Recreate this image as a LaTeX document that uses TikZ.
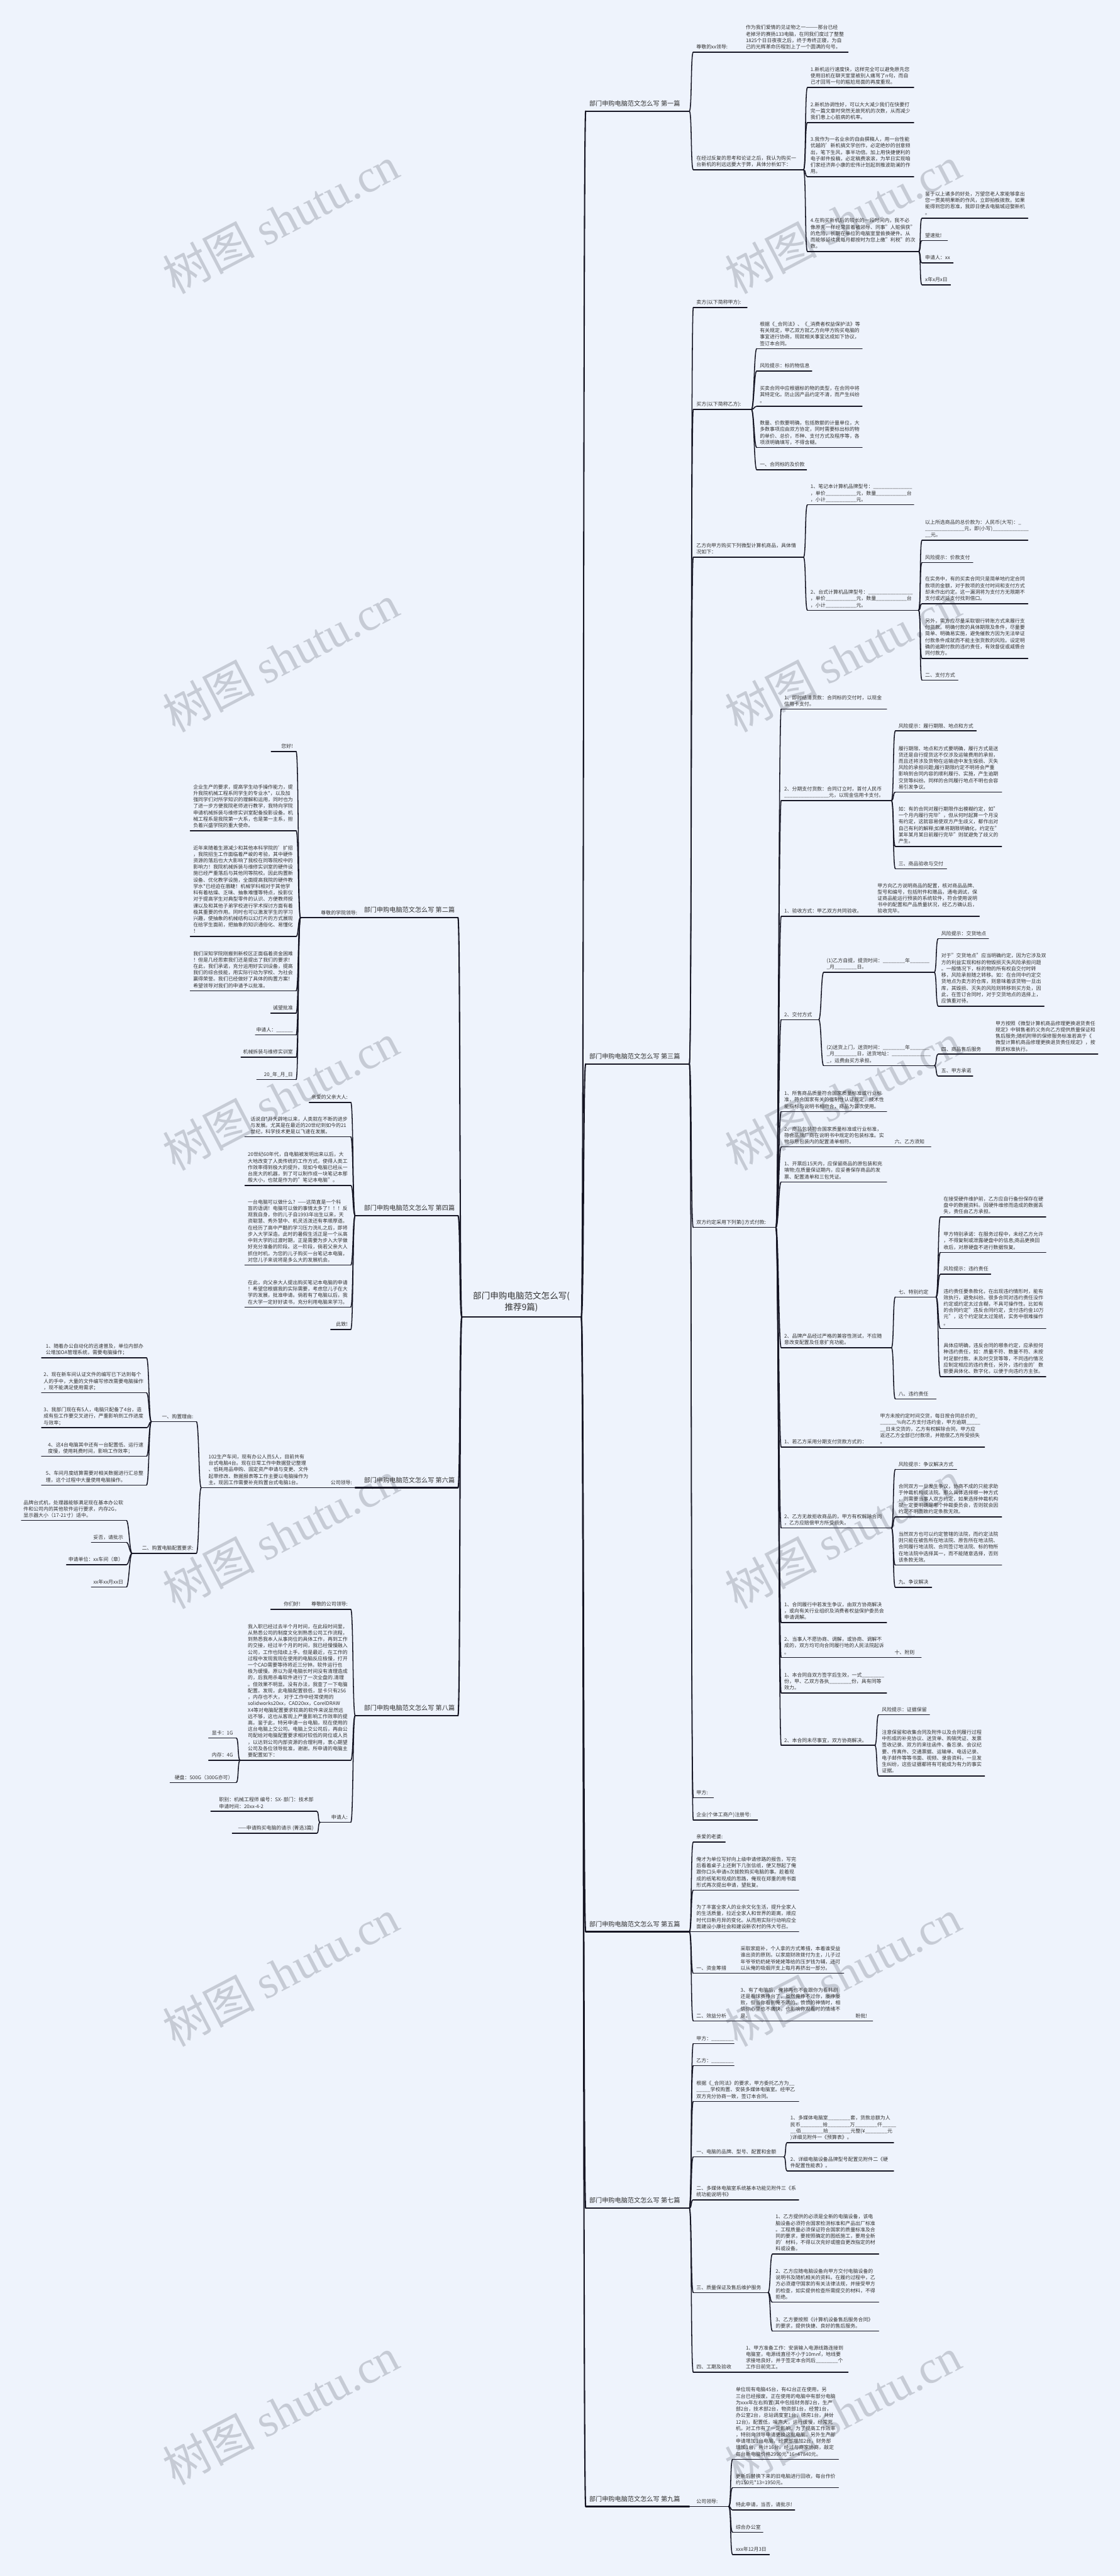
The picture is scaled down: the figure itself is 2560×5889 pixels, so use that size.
\documentclass[tikz,border=0pt]{standalone}
\usepackage{fontspec}
\setmainfont{Noto Sans CJK SC}
\newfontfamily\wmserif{Liberation Serif}
\definecolor{bg}{RGB}{238,243,252}
\definecolor{lc}{RGB}{22,22,36}
\definecolor{tc}{RGB}{51,51,51}
\definecolor{wm}{RGB}{198,203,213}
\newcount\uscnt
\newcommand\us[1]{\uscnt=0\relax\loop\ifnum\uscnt<#1\relax\_\advance\uscnt by 1\relax\repeat}
\tikzset{
  ul/.style={line width=2.2pt,draw=lc,line cap=round},
  conn/.style={line width=2.2pt,draw=lc,line cap=round},
  tul/.style={line width=3pt,draw=lc,line cap=round},
  trunk/.style={line width=3pt,draw=lc,line cap=round},
  txt/.style={inner sep=0pt,text=tc,font=\fontsize{11.4}{14.7}\selectfont},
  ttl/.style={inner sep=0pt,text=tc,font=\fontsize{14.6}{18}\selectfont},
  wmk/.style={inner sep=0pt,text=wm,rotate=27.6,font=\fontsize{105}{105}\selectfont},
}
\newcommand\RN[5]{\draw[ul] (#2,#4) coordinate (#1-s) -- (#3,#4) coordinate (#1-e);
  \node[txt,anchor=base west] (#1) at (#2+7,#4-7.5) {\begin{tabular}[b]{@{}l@{}}#5\end{tabular}};}
\newcommand\LN[5]{\draw[ul] (#2,#4) coordinate (#1-s) -- (#3,#4) coordinate (#1-e);
  \node[txt,anchor=base east] (#1) at (#3-7,#4-7.5) {\begin{tabular}[b]{@{}l@{}}#5\end{tabular}};}
\newcommand\RT[3]{\draw[tul] (1339,#2) coordinate (#1-s) -- (1576,#2) coordinate (#1-e);
  \node[ttl,anchor=base west] (#1) at (1347,#2-12) {#3};}
\newcommand\LT[4]{\draw[tul] (#2,#3) coordinate (#1-s) -- (1047,#3) coordinate (#1-e);
  \node[ttl,anchor=base east] (#1) at (1040,#3-12) {#4};}
\newcommand\RC[2]{\draw[conn] (#1-e) .. controls +(6,0) and +(-6,0) .. (#2-s);}
\newcommand\LC[2]{\draw[conn] (#1-s) .. controls +(-6,0) and +(6,0) .. (#2-e);}
\newcommand\RCt[2]{\draw[trunk] (#1-e) .. controls +(6,0) and +(-6,0) .. (#2-s);}
\newcommand\LCt[2]{\draw[trunk] (#1-s) .. controls +(-6,0) and +(6,0) .. (#2-e);}
\begin{document}
\begin{tikzpicture}[x=1pt,y=-1pt]
\fill[bg] (0,0) rectangle (2560,5889);
\path[use as bounding box] (0,0) rectangle (2560,5889);
% watermarks
\foreach \k in {0,...,5}{
  \node[wmk] (wl\k) at (642,{502+1002*\k}) {树图 {\wmserif shutu.cn}};
  \node[wmk] (wr\k) at (1927,{502+1002*\k}) {树图 {\wmserif shutu.cn}};
}
% center
\draw[tul] (1056,3011) coordinate (c-s) -- (1329,3011) coordinate (c-e);
\node[inner sep=0pt,text=tc,font=\fontsize{19.5}{26.7}\selectfont,anchor=base] (c) at (1192,2996)
  {\begin{tabular}[b]{@{}c@{}}部门申购电脑范文怎么写(\\推荐9篇)\end{tabular}};
% ===== right titles
\RT{t1}{254}{部门申购电脑范文怎么写 第一篇}
\RT{t3}{2432}{部门申购电脑范文怎么写 第三篇}
\RT{t5}{4416}{部门申购电脑范文怎么写 第五篇}
\RT{t7}{5048}{部门申购电脑范文怎么写 第七篇}
\RT{t9}{5730}{部门申购电脑范文怎么写 第九篇}
\RCt{c}{t1}\RCt{c}{t3}\RCt{c}{t5}\RCt{c}{t7}\RCt{c}{t9}
% ===== left titles
\LT{t2}{824}{2098}{部门申购电脑范文怎么写 第二篇}
\LT{t4}{812}{2779}{部门申购电脑范文怎么写 第四篇}
\LT{t6}{812}{3401}{部门申购电脑范文怎么写 第六篇}
\LT{t8}{812}{3922}{部门申购电脑范文怎么写 第八篇}
\LCt{c}{t2}\LCt{c}{t4}\LCt{c}{t6}\LCt{c}{t8}
% ===== 第一篇
\RN{n1a}{1585}{1698}{119}{尊敬的xx领导:}
\RN{n1a1}{1698}{1939}{119}{作为我们爱情的见证物之一———那台已经\\老掉牙的赛扬133电脑，在同我们度过了整整\\1825个日日夜夜之后，终于寿终正寝，为自\\己的光辉革命历程划上了一个圆满的句号。}
\RN{n1b}{1585}{1837}{388}{在经过反复的思考和论证之后，我认为购买一\\台新机的利远远要大于弊，具体分析如下：}
\RN{n1b1}{1846}{2089}{200}{1.新机运行速度快，这样完全可以避免原先您\\使用旧机在聊天室里被别人痛骂了n句，而自\\己才回骂一句的尴尬局面的再度重现。}
\RN{n1b2}{1846}{2089}{280}{2.新机协调性好，可以大大减少我们在快要打\\完一篇文章时突然无故死机的次数，从而减少\\我们患上心脏病的机率。}
\RN{n1b3}{1846}{2089}{404}{3.我作为一名业余的自由撰稿人，用一台性能\\优越的'新机搞文学创作，必定绝妙的创意频\\出，笔下生风，事半功倍。加上用快捷便利的\\电子邮件投稿，必定稿费滚滚，为早日实现咱\\们家经济奔小康的宏伟计划起到推波助澜的作\\用。}
\RN{n1b4}{1846}{2100}{575}{4.在购买新机后的较长的一段时间内，我不必\\像原先一样经常冒着被领导、同事"人赃俱获"\\的危险，长期在单位的电脑室里偷换硬件。从\\而能够延续我每月都按时为您上缴"利税"的次\\数。}
\RN{n1b4a}{2108}{2350}{499}{鉴于以上诸多的好处，万望您老人家能够拿出\\您一贯英明果断的作风，立即拍板拨款。如果\\能得到您的恩准，我即日便去电脑城迎娶新机\\。}
\RN{n1b4b}{2108}{2166}{550}{望速批!}
\RN{n1b4c}{2108}{2179}{601}{申请人：xx}
\RN{n1b4d}{2108}{2173}{651}{x年x月x日}
\RC{t1}{n1a}\RC{t1}{n1b}\RC{n1a}{n1a1}
\RC{n1b}{n1b1}\RC{n1b}{n1b2}\RC{n1b}{n1b3}\RC{n1b}{n1b4}
\RC{n1b4}{n1b4a}\RC{n1b4}{n1b4b}\RC{n1b4}{n1b4c}\RC{n1b4}{n1b4d}
% ===== 第三篇
\RN{n3a}{1585}{1708}{703}{卖方(以下简称甲方):}
\RN{n3b}{1585}{1718}{936}{买方(以下简称乙方):}
\RN{n3b1}{1730}{1971}{797}{根据《\_合同法》、《\_消费者权益保护法》等\\有关规定，甲乙双方就乙方向甲方购买电脑的\\事宜进行协商，现就相关事宜达成如下协议，\\签订本合同。}
\RN{n3b2}{1730}{1856}{848}{风险提示：标的物信息}
\RN{n3b3}{1730}{1971}{929}{买卖合同中应根据标的物的类型，在合同中将\\其特定化。防止因产品约定不清，而产生纠纷\\。}
\RN{n3b4}{1730}{1971}{1023}{数量、价款要明确，包括数额的计量单位，大\\多数事项应由双方协定，同时需要标出标的物\\的单价、总价，币种、支付方式及程序等，各\\项须明确填写，不得含糊。}
\RN{n3b5}{1730}{1844}{1074}{一、合同标的及价款}
\RN{n3c}{1585}{1837}{1274}{乙方向甲方购买下列微型计算机商品，具体情\\况如下：}
\RN{n3c1}{1846}{2089}{1154}{1、笔记本计算机品牌型号：\us{14}\\，单价\us{11}元，数量\us{11}台\\，小计\us{11}元。}
\RN{n3c2}{1846}{2100}{1395}{2、台式计算机品牌型号：\us{16}\\，单价\us{11}元，数量\us{11}台\\，小计\us{11}元。}
\RN{n3c2a}{2108}{2350}{1235}{以上所选商品的总价款为：人民币(大写)：\_\\\us{14}元，即(小写)\us{13}\\\_\_元。}
\RN{n3c2b}{2108}{2224}{1286}{风险提示：价款支付}
\RN{n3c2c}{2108}{2350}{1380}{在实务中，有的买卖合同只是简单地约定合同\\款项的金额，对于款项的支付时间和支付方式\\却未作出约定。这一漏洞将为支付方无限期不\\支付或迟延支付找到借口。}
\RN{n3c2d}{2108}{2350}{1505}{另外，需方应尽量采取银行转账方式来履行支\\付货款。明确付款的具体期限及条件，尽量要\\简单、明确易实施，避免催款方因为无法举证\\付款条件成就而不能主张货款的风险。设定明\\确的逾期付款的违约责任，有效督促或威慑合\\同付款方。}
\RN{n3c2e}{2108}{2190}{1555}{二、支付方式}
\RN{n3d}{1585}{1774}{2806}{双方约定采用下列第()方式付款:}
\RN{n3d1}{1786}{2027}{1621}{1、即时结清货款：合同标的交付时，以现金\\信用卡支付。}
\RN{n3d2}{1786}{2038}{1830}{2、分期支付货款：合同订立时，首付人民币\\\us{16}元，以现金信用卡支付。}
\RN{n3d2a}{2047}{2232}{1671}{风险提示：履行期限、地点和方式}
\RN{n3d2b}{2047}{2290}{1811}{履行期限、地点和方式要明确，履行方式是送\\货还是自行提货这不仅涉及运输费用的承担，\\而且还将涉及货物在运输途中发生毁损、灭失\\风险的承担问题;履行期限约定不明将会严重\\影响到合同内容的顺利履行、实施，产生逾期\\交货等纠纷。同样的合同履行地点不明也会容\\易引发争议。}
\RN{n3d2c}{2047}{2290}{1935}{如：有的合同对履行期限作出模糊约定，如"\\一个月内履行完毕"，但从何时起算一个月没\\有约定，这就容易使双方产生歧义，都作出对\\自己有利的解释;如果将期限明确化，约定在"\\某年某月某日前履行完毕"则就避免了歧义的\\产生。}
\RN{n3d2d}{2047}{2164}{1986}{三、商品验收与交付}
\RN{n3d3}{1786}{1999}{2095}{1、验收方式：甲乙双方共同验收。}
\RN{n3d3a}{1999}{2239}{2095}{甲方向乙方说明商品的配置，核对商品品牌、\\型号和编号，包括附件和赠品，通电调试，保\\证商品能运行预装的系统软件，符合使用说明\\书中的配置和产品质量状况，经乙方确认后，\\验收完毕。}
\RN{n3d4}{1786}{1872}{2331}{2、交付方式}
\RN{n3d4a}{1883}{2136}{2223}{(1)乙方自提，提货时间：\us{8}年\us{7}\\\_月\us{8}日。}
\RN{n3d4a1}{2145}{2260}{2146}{风险提示：交货地点}
\RN{n3d4a2}{2145}{2387}{2300}{对于"交货地点"应当明确约定，因为它涉及双\\方的利益实现和标的物毁损灭失风险承担问题\\。一般情况下，标的物的所有权自交付时转\\移，风险承担随之转移。如：在合同中约定交\\货地点为卖方的仓库，则意味着该货物一旦出\\库，其毁损、灭失的风险则转移到买方处，因\\此，在签订合同时，对于交货地点的选择上，\\应慎重对待。}
\RN{n3d4b}{1883}{2136}{2436}{(2)送货上门，送货时间：\us{8}年\us{7}\\\_月\us{8}日，送货地址：\us{14}\\\_，运费由买方承担。}
\RN{n3d4b1}{2145}{2269}{2410}{四、商品售后服务}
\RN{n3d4b1a}{2269}{2510}{2410}{甲方按照《微型计算机商品修理更换退货责任\\规定》中销售者的义务向乙方提供质量保证和\\售后服务;随机附带的保修服务标准若高于《\\微型计算机商品修理更换退货责任规定》，按\\照该标准执行。}
\RN{n3d4b2}{2145}{2224}{2460}{五、甲方承诺}
\RN{n3d5}{1786}{2027}{2541}{1、所售商品质量符合国家质量标准或行业标\\准，符合国家有关的强制性认证规定，技术性\\能指标与说明书相吻合，商品为首次使用。}
\RN{n3d6}{1786}{2038}{2622}{2、商品包装符合国家质量标准或行业标准，\\符合品牌厂商在说明书中规定的包装标准。实\\物与原包装内的配置清单相符。}
\RN{n3d6a}{2038}{2128}{2622}{六、乙方须知}
\RN{n3d7}{1786}{2027}{2702}{1、开票后15天内，应保留商品的原包装和充\\填物;在质量保证期内，应妥善保存商品的发\\票、配置清单和三包凭证。}
\RN{n3d8}{1786}{2038}{3081}{2、品牌产品经过严格的兼容性测试，不应随\\意改变配置及任意扩充功能。}
\RN{n3d8a}{2047}{2140}{2965}{七、特别约定}
\RN{n3d8a1}{2150}{2391}{2782}{在接受硬件维护前，乙方应自行备份保存在硬\\盘中的数据资料。因硬件维修而造成的数据丢\\失，责任由乙方承担。}
\RN{n3d8a2}{2150}{2391}{2863}{甲方特别承诺：在服务过程中，未经乙方允许\\，不得复制或泄露硬盘中的信息;商品更换回\\收后，对原硬盘不进行数据恢复。}
\RN{n3d8a3}{2150}{2265}{2913}{风险提示：违约责任}
\RN{n3d8a4}{2150}{2391}{3037}{违约责任要条款化，在出现违约情形时，能有\\效执行，避免纠纷。很多合同对违约责任没作\\约定或约定太过含糊，不具可操作性。比如有\\的合同约定"违反合同约定，支付违约金10万\\元"，这个约定就太过笼统，实务中很难操作\\。}
\RN{n3d8a5}{2150}{2391}{3147}{具体应明确，违反合同的哪条约定，应承担何\\种违约责任，如：质量不符、数量不符、未按\\时足额付款、未及时交货等等，不同违约情况\\应制定相应的违约责任，另外，违约金的'数\\额要具体化、数字化，以便于向违约方主张。}
\RN{n3d8b}{2047}{2140}{3198}{八、违约责任}
\RN{n3d9}{1786}{2005}{3308}{1、若乙方采用分期支付货款方式的：}
\RN{n3d9a}{2005}{2251}{3308}{甲方未按约定时间交货，每日按合同总价的\_\\\us{6}\%向乙方支付违约金，甲方逾期\us{5}\\\_\_日未交货的，乙方有权解除合同，甲方应\\返还乙方全部已付款项，并赔偿乙方所受损失\\。}
\RN{n3d10}{1786}{2038}{3493}{2、乙方无故拒收商品的，甲方有权解除合同\\，乙方应赔偿甲方所受损失。}
\RN{n3d10a}{2047}{2187}{3359}{风险提示：争议解决方式}
\RN{n3d10b}{2047}{2290}{3468}{合同双方一旦发生争议，协商不成的只能求助\\于仲裁机构或法院。那么具体选择哪一种方式\\，则需要当事人双方约定，如果选择仲裁机构\\就一定要明确是哪个仲裁委员会，否则就会因\\约定不明而致约定条款无效。}
\RN{n3d10c}{2047}{2290}{3578}{当然双方也可以约定管辖的法院，而约定法院\\则只能在被告所在地法院、原告所在地法院、\\合同履行地法院、合同签订地法院、标的物所\\在地法院中选择其一，而不能随意选择，否则\\该条款无效。}
\RN{n3d10d}{2047}{2130}{3629}{九、争议解决}
\RN{n3d11}{1786}{2027}{3709}{1、合同履行中若发生争议，由双方协商解决\\，或向有关行业组织及消费者权益保护委员会\\申请调解。}
\RN{n3d12}{1786}{2038}{3789}{2、当事人不愿协商、调解，或协商、调解不\\成的，双方均可向合同履行地的人民法院起诉\\。}
\RN{n3d12a}{2038}{2106}{3789}{十、附则}
\RN{n3d13}{1786}{2027}{3870}{1、本合同自双方签字后生效，一式\us{8}\\份，甲、乙双方各执\us{8}份，具有同等\\效力。}
\RN{n3d14}{1786}{2000}{3990}{2、本合同未尽事宜，双方协商解决。}
\RN{n3d14a}{2009}{2125}{3920}{风险提示：证据保留}
\RN{n3d14b}{2009}{2251}{4060}{注意保留和收集合同及附件以及合同履行过程\\中形成的补充协议、送货单、购销凭证、发票\\签收记录、双方的来往函件、备忘录、会议纪\\要、传真件、交通票据、运输单、电话记录、\\电子邮件等等书面、视频、录音资料，一旦发\\生纠纷，这些证据都将有可能成为有力的事实\\证据。}
\RN{n3e}{1585}{1631}{4110}{甲方:}
\RN{n3f}{1585}{1732}{4161}{企业(个体工商户)注册号:}
\RC{t3}{n3a}\RC{t3}{n3b}\RC{t3}{n3c}\RC{t3}{n3d}\RC{t3}{n3e}\RC{t3}{n3f}
\RC{n3b}{n3b1}\RC{n3b}{n3b2}\RC{n3b}{n3b3}\RC{n3b}{n3b4}\RC{n3b}{n3b5}
\RC{n3c}{n3c1}\RC{n3c}{n3c2}
\RC{n3c2}{n3c2a}\RC{n3c2}{n3c2b}\RC{n3c2}{n3c2c}\RC{n3c2}{n3c2d}\RC{n3c2}{n3c2e}
\RC{n3d}{n3d1}\RC{n3d}{n3d2}\RC{n3d}{n3d3}\RC{n3d}{n3d4}\RC{n3d}{n3d5}\RC{n3d}{n3d6}\RC{n3d}{n3d7}
\RC{n3d}{n3d8}\RC{n3d}{n3d9}\RC{n3d}{n3d10}\RC{n3d}{n3d11}\RC{n3d}{n3d12}\RC{n3d}{n3d13}\RC{n3d}{n3d14}
\RC{n3d2}{n3d2a}\RC{n3d2}{n3d2b}\RC{n3d2}{n3d2c}\RC{n3d2}{n3d2d}
\RC{n3d3}{n3d3a}
\RC{n3d4}{n3d4a}\RC{n3d4}{n3d4b}
\RC{n3d4a}{n3d4a1}\RC{n3d4a}{n3d4a2}
\RC{n3d4b}{n3d4b1}\RC{n3d4b}{n3d4b2}\RC{n3d4b1}{n3d4b1a}
\RC{n3d6}{n3d6a}
\RC{n3d8}{n3d8a}\RC{n3d8}{n3d8b}
\RC{n3d8a}{n3d8a1}\RC{n3d8a}{n3d8a2}\RC{n3d8a}{n3d8a3}\RC{n3d8a}{n3d8a4}\RC{n3d8a}{n3d8a5}
\RC{n3d9}{n3d9a}
\RC{n3d10}{n3d10a}\RC{n3d10}{n3d10b}\RC{n3d10}{n3d10c}\RC{n3d10}{n3d10d}
\RC{n3d12}{n3d12a}
\RC{n3d14}{n3d14a}\RC{n3d14}{n3d14b}
% ===== 第五篇
\RN{n5a}{1585}{1658}{4211}{亲爱的老婆:}
\RN{n5b}{1585}{1826}{4321}{俺才为单位写好向上级申请修路的报告，写完\\后看着桌子上还剩下几张信纸，便又想起了俺\\跟你口头申请n次拔款购买电脑的事。趁着现\\成的纸笔和现成的思路，俺现在郑重的用书面\\形式再次提出申请，望批复。}
\RN{n5c}{1585}{1826}{4416}{为了丰富全家人的业余文化生活，提升全家人\\的生活质量，拉近全家人和世界的距离，顺应\\时代日新月异的变化。从而用实际行动响应全\\面建设小康社会和建设新农村的伟大号召。}
\RN{n5d}{1585}{1686}{4511}{一、资金筹措}
\RN{n5d1}{1686}{1929}{4511}{采取家庭补，个人拿的方式筹措，本着谁受益\\谁出资的原则。以家庭财政拨付为主，儿子过\\年爷爷奶奶姥爷姥姥等给的压岁钱为辅，还可\\以从俺的吸烟开支上每月再挤出一部分。}
\RN{n5e}{1585}{1686}{4620}{二、效益分析}
\RN{n5e1}{1686}{1949}{4620}{3、有了电脑后，俺将再也不会跟你为看韩剧\\还是看球赛挣台了，虽然俺挣不过你，屡挣屡\\败，但当你看到俺不满的、愤愤的神情时，相\\信你心里也不痛快，也影响你观看时的情绪不\\是。}
\RN{n5e1a}{1949}{1995}{4620}{盼批!}
\RC{t5}{n5a}\RC{t5}{n5b}\RC{t5}{n5c}\RC{t5}{n5d}\RC{t5}{n5e}
\RC{n5d}{n5d1}\RC{n5e}{n5e1}\RC{n5e1}{n5e1a}
% ===== 第七篇
\RN{n7a}{1585}{1678}{4672}{甲方：\us{8}}
\RN{n7b}{1585}{1678}{4722}{乙方：\us{8}}
\RN{n7c}{1585}{1826}{4804}{根据《\_合同法》的要求，甲方委托乙方为\us{2}\\\us{5}学校购置、安装多媒体电脑室。经甲乙\\双方充分协商一致，签订本合同。}
\RN{n7d}{1585}{1792}{4931}{一、电脑的品牌、型号、配置和金额}
\RN{n7d1}{1800}{2043}{4898}{1、多媒体电脑室\us{8}套，货款总额为人\\民币\us{8}拾\us{8}万\us{8}仟\us{5}\\\us{2}佰\us{8}拾\us{8}元整(¥\us{8}元\\)详细见附件一《预算表》。}
\RN{n7d2}{1800}{2043}{4963}{2、详细电脑设备品牌型号配置见附件二《硬\\件配置性能表》。}
\RN{n7e}{1585}{1826}{5029}{二、多媒体电脑室系统基本功能见附件三《系\\统功能说明书》}
\RN{n7f}{1585}{1756}{5241}{三、质量保证及售后维护服务}
\RN{n7f1}{1766}{2009}{5153}{1、乙方提供的必须是全新的电脑设备，该电\\脑设备必须符合国家检测标准和产品出厂标准\\。工程质量必须保证符合国家的质量标准及合\\同的要求，要按照确定的图纸施工，要用全新\\的'材料，不得以次充好或擅自更改指定的材\\料或设备。}
\RN{n7f2}{1766}{2009}{5263}{2、乙方应随电脑设备向甲方交付电脑设备的\\说明书及随机相关的资料。在履约过程中，乙\\方必须遵守国家的有关法律法规，并接受甲方\\的检查，如实提供检查所需提交的材料，不得\\拒绝。}
\RN{n7f3}{1766}{2009}{5329}{3、乙方要按照《计算机设备售后服务合同》\\的要求，提供快捷、良好的售后服务。}
\RN{n7g}{1585}{1698}{5423}{四、工期及验收}
\RN{n7g1}{1698}{1939}{5423}{1、甲方准备工作：安装输入电源线路连接到\\电脑室，电源线直径不小于10m㎡，地线要\\求接地良好，并于签定本合同后\us{8}个\\工作日前完工。}
\RC{t7}{n7a}\RC{t7}{n7b}\RC{t7}{n7c}\RC{t7}{n7d}\RC{t7}{n7e}\RC{t7}{n7f}\RC{t7}{n7g}
\RC{n7d}{n7d1}\RC{n7d}{n7d2}\RC{n7f}{n7f1}\RC{n7f}{n7f2}\RC{n7f}{n7f3}\RC{n7g}{n7g1}
% ===== 第九篇
\RN{n9a}{1585}{1666}{5730}{公司领导:}
\RN{n9a1}{1675}{1917}{5622}{单位现有电脑45台，有42台正在使用，另\\三台已经报废。正在使用的电脑中有部分电脑\\为xxx年左右购置(其中包括财务部2台，生产\\部2台，技术部2台，物资部1台，经营1台，\\办公室2台，总站调度室1台，磅房1台，共计\\12台)，配置低，噪声大，运行缓慢，经常死\\机，对工作有了一定影响。为了提高工作效率\\，特别向领导申请更换这批电脑。另外生产部\\申请增加1台电脑，经营部增加2台，财务部\\增加1台，共计16台。经过与商家协商，敲定\\每台新电脑价格2990元*16=47840元。}
\RN{n9a2}{1675}{1917}{5687}{更新后替换下来的旧电脑进行回收，每台作价\\约150元*13=1950元。}
\RN{n9a3}{1675}{1817}{5738}{特此申请，当否，请批示!}
\RN{n9a4}{1675}{1744}{5789}{综合办公室}
\RN{n9a5}{1675}{1759}{5840}{xxx年12月3日}
\RC{t9}{n9a}
\RC{n9a}{n9a1}\RC{n9a}{n9a2}\RC{n9a}{n9a3}\RC{n9a}{n9a4}\RC{n9a}{n9a5}
% ===== 第二篇
\LN{n2a}{687}{824}{2098}{尊敬的学院领导:}
\LN{n2a0}{620}{677}{1718}{您好!}
\LN{n2a1}{435}{677}{1899}{企业生产的要求，提高学生动手操作能力，提\\升我院机械工程系同学生的专业水*，以及加\\强同学们对所学知识的理解和运用，同时也为\\了进一步方便我院老师进行教学，我特向学院\\申请机械拆装与维修实训室配备投影设备。机\\械工程系是我院第一大系，也是第一主系，担\\负着兴盛学院的重大使命。}
\LN{n2a2}{435}{677}{2141}{近年来随着生源减少和其他本科学院的'扩招\\，我院招生工作面临着严峻的考验，其中硬件\\资源的落后也大大影响了我校在同等院校中的\\影响力！我院机械拆装与维修实训室的硬件设\\施已经严重落后与其他同等院校。因此购置新\\设备、优化教学设施，全面提高我院的硬件教\\学水*已经迫在眉睫！机械学科相对于其他学\\科有着枯燥、乏味、抽象难懂等特点，投影仪\\对于提高学生对典型零件的认识、方便教师授\\课以及和其他子弟学校进行学术探讨方面有着\\极其重要的作用。同时也可以激发学生的学习\\兴趣，使抽象的机械结构以幻灯片的方式展现\\在给学生面前，把抽象的知识通俗化、易懂化\\！}
\LN{n2a3}{435}{677}{2265}{我们深知学院刚搬到新校区正面临着资金困难\\！但是几经思索我们还是提出了我们的要求！\\在此，我们承诺，充分运用好实训设备，提高\\我们的综合技能，用实际行动为学校、为社会\\赢得荣誉。我们已经做好了具体的购置方案！\\希望领导对我们的申请予以批准。}
\LN{n2a4}{619}{677}{2316}{诚望批准}
\LN{n2a5}{584}{677}{2366}{申请人：\us{6}}
\LN{n2a6}{551}{677}{2417}{机械拆装与维修实训室}
\LN{n2a7}{587}{677}{2468}{20\_年\_月\_日}
\LC{t2}{n2a}
\LC{n2a}{n2a0}\LC{n2a}{n2a1}\LC{n2a}{n2a2}\LC{n2a}{n2a3}\LC{n2a}{n2a4}\LC{n2a}{n2a5}\LC{n2a}{n2a6}\LC{n2a}{n2a7}
% ===== 第四篇
\LN{n4a}{707}{802}{2520}{亲爱的父亲大人:}
\LN{n4b}{560}{802}{2599}{话说自*开天辟地以来，人类就在不断的进步\\与发展。尤其是在最近的20世纪到如今的21\\世纪，科学技术更是以飞速在发展。}
\LN{n4c}{560}{802}{2710}{20世纪60年代，自电脑被发明出来以后，大\\大地改变了人类传统的工作方式，使得人类工\\作效率得到极大的提升。现如今电脑已经从一\\台庞大的机器，到了可以制作成一块笔记本那\\般大小，也就是作为的"笔记本电脑"。}
\LN{n4d}{560}{802}{2892}{一台电脑可以做什么？——这简直是一个科\\盲的语调！电脑可以做的事情太多了！！！反\\观我自身，你的儿子自1993年出生以来，天\\资聪慧、秀外慧中、机灵活泼还有孝顺厚道。\\在经历了高中严酷的学习压力洗礼之后，即将\\步入大学深造。此时的暑假生活正是一个从高\\中到大学的过渡时期，正是需要为步入大学做\\好充分准备的阶段。这一阶段，倘若父亲大人\\抓住时机，为您的儿子购买一台笔记本电脑，\\对您儿子来说将是多么大的发展机会。}
\LN{n4e}{560}{802}{2988}{在此，向父亲大人提出购买笔记本电脑的申请\\！希望您根据我的实际需要，考虑您儿子在大\\学的发展，批准申请。倘若有了电脑以后，我\\在大学一定好好读书，充分利用电脑来学习。}
\LN{n4f}{756}{802}{3039}{此致!}
\LC{t4}{n4a}\LC{t4}{n4b}\LC{t4}{n4c}\LC{t4}{n4d}\LC{t4}{n4e}\LC{t4}{n4f}
% ===== 第六篇
\LN{n6a}{712}{812}{3401}{公司领导:}
\LN{n6b}{460}{712}{3401}{102生产车间，现有办公人员5人，目前共有\\台式电脑4台。现在日常工作中数据登记整理\\、低耗用品申购、固定资产申请与变更、文件\\起草修改、数据报表等工作主要以电脑操作为\\主。现因工作需要补充购置台式电脑1台。}
\LN{n6c}{346}{449}{3250}{一、购置理由:}
\LN{n6c1}{95}{335}{3104}{1、随着办公自动化的迅速普及，单位内部办\\公增加OA管理系统，需要电脑操作；}
\LN{n6c2}{95}{335}{3184}{2、现在新车间认证文件的编写已下达到每个\\人的手中，大量的文件编写修改需要电脑操作\\，现不能满足使用需求；}
\LN{n6c3}{95}{335}{3264}{3、我部门现在有5人，电脑只配备了4台，造\\成有些工作要交叉进行，严重影响到工作进度\\与效率；}
\LN{n6c4}{95}{335}{3329}{4、这4台电脑其中还有一台配置低、运行速\\度慢，使用耗费时间，影响工作效率；}
\LN{n6c5}{95}{335}{3395}{5、车间月度结算需要对相关数据进行汇总整\\理，这个过程中大量使用电脑操作。}
\LN{n6d}{302}{449}{3551}{二、购置电脑配置要求:}
\LN{n6d1}{49}{289}{3476}{品牌台式机，处理器能够满足现在基本办公软\\件和公司内的其他软件运行要求，内存2G，\\显示器大小（17-21寸）适中。}
\LN{n6d2}{209}{289}{3526}{妥否，请批示}
\LN{n6d3}{152}{289}{3577}{申请单位：xx车间（章）}
\LN{n6d4}{209}{289}{3628}{xx年xx月xx日}
\LC{t6}{n6a}\LC{n6a}{n6b}\LC{n6b}{n6c}\LC{n6b}{n6d}
\LC{n6c}{n6c1}\LC{n6c}{n6c2}\LC{n6c}{n6c3}\LC{n6c}{n6c4}\LC{n6c}{n6c5}
\LC{n6d}{n6d1}\LC{n6d}{n6d2}\LC{n6d}{n6d3}\LC{n6d}{n6d4}
% ===== 第八篇
\LN{n8a}{694}{802}{3679}{尊敬的公司领导:}
\LN{n8a1}{619}{694}{3679}{你们好!}
\LN{n8b}{549}{802}{4024}{我入职已经过去半个月时间，在此段时间里，\\从熟悉公司的制度文化到熟悉公司工作流程，\\到熟悉我本人从事岗位的具体工作，再到工作\\的交接，经过半个月的时间，我已经慢慢融入\\公司，工作也陆续上手。但是最近，在工作的\\过程中发现我现在使用的电脑反应极慢，打开\\一个CAD需要等待将近三分钟。软件运行也\\极为缓慢。原以为是电脑长时间没有清理造成\\的，后我用杀毒软件进行了一次全盘的.清理\\。但效果不明显。没有办法，我查了一下电脑\\配置。发现，此电脑配置很低，显卡只有256\\，内存也不大， 对于工作中经常使用的\\solidworks20xx，CAD20xx，CorelDRAW\\X4等对电脑配置要求较高的软件来说显然远\\远不够，这也从客观上严重影响工作效率的提\\高。鉴于此，特另申请一台电脑，现在使用的\\这台电脑上交公司。电脑上交公司后，再由公\\司配给对电脑配置要求相对较低的岗位或人员\\，以达到公司内部资源的合理利用，衷心期望\\公司及各位领导批准，谢谢。所申请的电脑主\\要配置如下：}
\LN{n8b1}{477}{540}{3973}{显卡：1G}
\LN{n8b2}{477}{540}{4024}{内存：4G}
\LN{n8b3}{389}{540}{4075}{硬盘：500G（300G亦可）}
\LN{n8c}{732}{802}{4166}{申请人:}
\LN{n8c1}{482}{724}{4141}{职别：机械工程师 编号：SX- 部门：技术部\\申请时间：20xx-4-2}
\LN{n8c2}{531}{724}{4191}{——申请购买电脑的请示 (菁选3篇)}
\LC{t8}{n8a}\LC{t8}{n8b}\LC{t8}{n8c}\LC{n8a}{n8a1}
\LC{n8b}{n8b1}\LC{n8b}{n8b2}\LC{n8b}{n8b3}
\LC{n8c}{n8c1}\LC{n8c}{n8c2}
\end{tikzpicture}
\end{document}
